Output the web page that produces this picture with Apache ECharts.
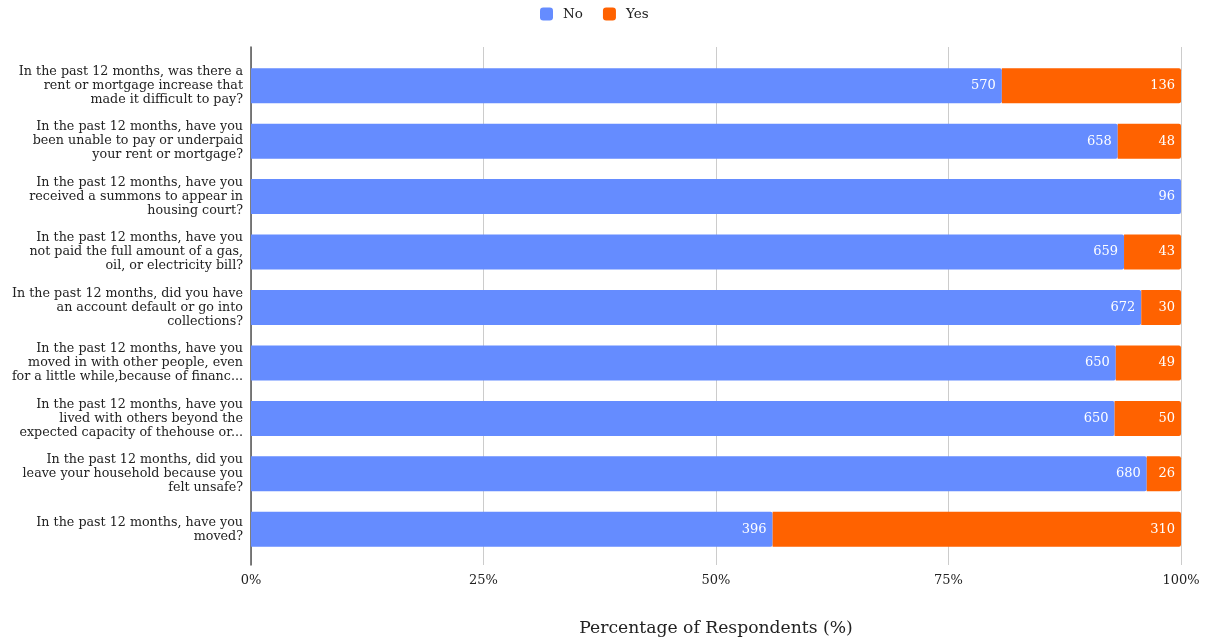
<!DOCTYPE html>
<html>
<head>
<meta charset="utf-8">
<script src="https://cdn.jsdelivr.net/npm/echarts@6/dist/echarts.min.js"></script>
<style>
  html, body { margin: 0; padding: 0; background: #fff; }
  #chart { width: 1209px; height: 642px; }
</style>
</head>
<body>
<div id="chart"></div>
<script>
// Survey questions (top to bottom) and respondent counts per answer
const questions = [
  'In the past 12 months, was there a\nrent or mortgage increase that\nmade it difficult to pay?',
  'In the past 12 months, have you\nbeen unable to pay or underpaid\nyour rent or mortgage?',
  'In the past 12 months, have you\nreceived a summons to appear in\nhousing court?',
  'In the past 12 months, have you\nnot paid the full amount of a gas,\noil, or electricity bill?',
  'In the past 12 months, did you have\nan account default or go into\ncollections?',
  'In the past 12 months, have you\nmoved in with other people, even\nfor a little while,because of financ...',
  'In the past 12 months, have you\nlived with others beyond the\nexpected capacity of thehouse or...',
  'In the past 12 months, did you\nleave your household because you\nfelt unsafe?',
  'In the past 12 months, have you\nmoved?'
];
const noCounts  = [570, 658, 96, 659, 672, 650, 650, 680, 396];
const yesCounts = [136, 48, 0, 43, 30, 49, 50, 26, 310];
const xTicks = [0, 25, 50, 75, 100];

const FONT = '"DejaVu Serif", Georgia, serif';
const BLUE = '#658cff';
const ORANGE = '#ff6200';

// Convert counts to shares of each question's total (100% stacked)
const totals = noCounts.map((n, i) => n + yesCounts[i]);
const noPct  = noCounts.map((n, i) => totals[i] ? n / totals[i] * 100 : 0);
const yesPct = yesCounts.map((n, i) => totals[i] ? n / totals[i] * 100 : 0);

const chart = echarts.init(document.getElementById('chart'));
chart.setOption({
  animation: false,
  textStyle: { fontFamily: FONT },
  legend: {
    top: 2,
    left: 535,
    itemWidth: 13,
    itemHeight: 13,
    itemGap: 20,
    icon: 'roundRect',
    textStyle: { fontFamily: FONT, fontSize: 13.5, color: '#222', padding: [0, 0, 0, 5] },
    data: ['No', 'Yes']
  },
  grid: [
    // frame grid: gridlines, tick labels, left axis line
    { left: 251, right: 28, top: 47, bottom: 77 },
    // bar grid
    { left: 251, right: 28, top: 58, bottom: 85 }
  ],
  xAxis: [
    {
      gridIndex: 0, type: 'value', min: xTicks[0], max: xTicks[xTicks.length - 1], interval: 25,
      axisLine: { show: false }, axisTick: { show: false },
      splitLine: { lineStyle: { color: '#cccccc', width: 1 } },
      axisLabel: { formatter: '{value}%', fontFamily: FONT, fontSize: 13, color: '#222', margin: 9 },
      name: 'Percentage of Respondents (%)',
      nameLocation: 'middle',
      nameGap: 55,
      nameTextStyle: { fontFamily: FONT, fontSize: 17.2, color: '#222' }
    },
    {
      gridIndex: 1, type: 'value', min: 0, max: 100,
      show: false, splitLine: { show: false }
    }
  ],
  yAxis: [
    {
      gridIndex: 0, type: 'value', min: 0, max: 1,
      axisLine: { show: true, lineStyle: { color: '#555', width: 1.5 } },
      axisTick: { show: false }, axisLabel: { show: false }, splitLine: { show: false }
    },
    {
      gridIndex: 1, type: 'category', inverse: true, data: questions,
      axisLine: { show: false }, axisTick: { show: false },
      axisLabel: { fontFamily: FONT, fontSize: 12.7, lineHeight: 14, color: '#222', margin: 8, align: 'right' }
    }
  ],
  series: [
    {
      name: 'No', type: 'bar', stack: 'total', xAxisIndex: 1, yAxisIndex: 1,
      barWidth: 35,
      itemStyle: { color: BLUE, borderRadius: [0, 2, 2, 0] },
      label: {
        show: true, position: 'insideRight', distance: 6, color: '#fff',
        fontFamily: FONT, fontSize: 13,
        formatter: p => noCounts[p.dataIndex] ? String(noCounts[p.dataIndex]) : ''
      },
      data: noPct
    },
    {
      name: 'Yes', type: 'bar', stack: 'total', xAxisIndex: 1, yAxisIndex: 1,
      barWidth: 35,
      itemStyle: { color: ORANGE, borderRadius: [0, 2, 2, 0] },
      label: {
        show: true, position: 'insideRight', distance: 6, color: '#fff',
        fontFamily: FONT, fontSize: 13,
        formatter: p => yesCounts[p.dataIndex] ? String(yesCounts[p.dataIndex]) : ''
      },
      data: yesPct
    }
  ]
});
</script>
</body>
</html>
